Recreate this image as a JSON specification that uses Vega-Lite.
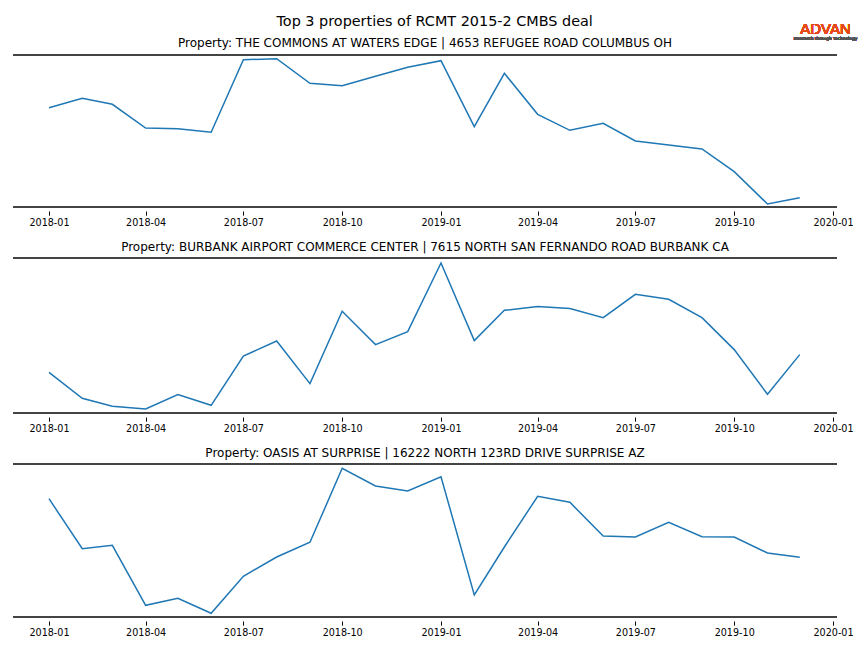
{
  "$schema": "https://vega.github.io/schema/vega-lite/v6.json",
  "padding": {"left": 12, "top": 13, "right": 5, "bottom": 5},
  "title": {"text": "Top 3 properties of RCMT 2015-2 CMBS deal", "fontSize": 14.4, "font": "DejaVu Sans", "fontWeight": "normal", "color": "#000000", "anchor": "middle", "offset": -7},
  "config": {
    "view": {"stroke": null},
    "font": "DejaVu Sans",
    "title": {"fontSize": 12, "fontWeight": "normal", "font": "DejaVu Sans", "color": "#000000", "offset": 3},
    "axis": {"labelFont": "DejaVu Sans", "labelFontSize": 9.6, "labelColor": "#000000", "tickColor": "#000000", "tickSize": 4.2, "tickWidth": 0.96, "domain": false, "grid": false, "title": null, "offset": 4, "labelPadding": 2.5}
  },
  "spacing": 13,
  "datasets": {
    "p1": [
      {"date": "2018-01-01T00:00:00", "v": 99.3}, {"date": "2018-02-01T00:00:00", "v": 108.7}, {"date": "2018-03-01T00:00:00", "v": 102.7},
      {"date": "2018-04-01T00:00:00", "v": 79.0}, {"date": "2018-05-01T00:00:00", "v": 78.3}, {"date": "2018-06-01T00:00:00", "v": 74.7},
      {"date": "2018-07-01T00:00:00", "v": 147.3}, {"date": "2018-08-01T00:00:00", "v": 148.3}, {"date": "2018-09-01T00:00:00", "v": 123.7},
      {"date": "2018-10-01T00:00:00", "v": 121.3}, {"date": "2018-11-01T00:00:00", "v": 130.7}, {"date": "2018-12-01T00:00:00", "v": 139.7},
      {"date": "2019-01-01T00:00:00", "v": 146.3}, {"date": "2019-02-01T00:00:00", "v": 80.3}, {"date": "2019-03-01T00:00:00", "v": 133.7},
      {"date": "2019-04-01T00:00:00", "v": 92.7}, {"date": "2019-05-01T00:00:00", "v": 76.7}, {"date": "2019-06-01T00:00:00", "v": 83.7},
      {"date": "2019-07-01T00:00:00", "v": 66.0}, {"date": "2019-08-01T00:00:00", "v": 62.0}, {"date": "2019-09-01T00:00:00", "v": 58.0},
      {"date": "2019-10-01T00:00:00", "v": 35.3}, {"date": "2019-11-01T00:00:00", "v": 3.0}, {"date": "2019-12-01T00:00:00", "v": 9.3}
    ],
    "p2": [
      {"date": "2018-01-01T00:00:00", "v": 40.7}, {"date": "2018-02-01T00:00:00", "v": 14.7}, {"date": "2018-03-01T00:00:00", "v": 6.7},
      {"date": "2018-04-01T00:00:00", "v": 4.0}, {"date": "2018-05-01T00:00:00", "v": 18.4}, {"date": "2018-06-01T00:00:00", "v": 7.7},
      {"date": "2018-07-01T00:00:00", "v": 57.0}, {"date": "2018-08-01T00:00:00", "v": 72.0}, {"date": "2018-09-01T00:00:00", "v": 29.4},
      {"date": "2018-10-01T00:00:00", "v": 101.7}, {"date": "2018-11-01T00:00:00", "v": 68.4}, {"date": "2018-12-01T00:00:00", "v": 81.4},
      {"date": "2019-01-01T00:00:00", "v": 150.0}, {"date": "2019-02-01T00:00:00", "v": 72.4}, {"date": "2019-03-01T00:00:00", "v": 102.7},
      {"date": "2019-04-01T00:00:00", "v": 106.4}, {"date": "2019-05-01T00:00:00", "v": 104.4}, {"date": "2019-06-01T00:00:00", "v": 95.4},
      {"date": "2019-07-01T00:00:00", "v": 118.7}, {"date": "2019-08-01T00:00:00", "v": 113.7}, {"date": "2019-09-01T00:00:00", "v": 95.4},
      {"date": "2019-10-01T00:00:00", "v": 63.4}, {"date": "2019-11-01T00:00:00", "v": 18.7}, {"date": "2019-12-01T00:00:00", "v": 58.4}
    ],
    "p3": [
      {"date": "2018-01-01T00:00:00", "v": 118.3}, {"date": "2018-02-01T00:00:00", "v": 68.3}, {"date": "2018-03-01T00:00:00", "v": 71.7},
      {"date": "2018-04-01T00:00:00", "v": 11.7}, {"date": "2018-05-01T00:00:00", "v": 18.7}, {"date": "2018-06-01T00:00:00", "v": 3.7},
      {"date": "2018-07-01T00:00:00", "v": 40.7}, {"date": "2018-08-01T00:00:00", "v": 60.0}, {"date": "2018-09-01T00:00:00", "v": 74.7},
      {"date": "2018-10-01T00:00:00", "v": 148.7}, {"date": "2018-11-01T00:00:00", "v": 131.0}, {"date": "2018-12-01T00:00:00", "v": 126.0},
      {"date": "2019-01-01T00:00:00", "v": 140.3}, {"date": "2019-02-01T00:00:00", "v": 22.0}, {"date": "2019-03-01T00:00:00", "v": 70.0},
      {"date": "2019-04-01T00:00:00", "v": 120.7}, {"date": "2019-05-01T00:00:00", "v": 114.7}, {"date": "2019-06-01T00:00:00", "v": 81.0},
      {"date": "2019-07-01T00:00:00", "v": 80.0}, {"date": "2019-08-01T00:00:00", "v": 94.7}, {"date": "2019-09-01T00:00:00", "v": 80.3},
      {"date": "2019-10-01T00:00:00", "v": 80.0}, {"date": "2019-11-01T00:00:00", "v": 64.0}, {"date": "2019-12-01T00:00:00", "v": 59.7}
    ]
  },
  "vconcat": [
    {
      "title": {"text": "Property: THE COMMONS AT WATERS EDGE | 4653 REFUGEE ROAD COLUMBUS OH", "offset": -28},
      "width": 824, "height": 152,
      "data": {"name": "p1"},
      "layer": [
        {"mark": {"type": "line", "color": "#1f77b4", "strokeWidth": 1.5},
         "encoding": {
           "x": {"field": "date", "type": "temporal", "scale": {"domain": [{"year": 2017, "month": 11, "date": 28, "hours": 12}, {"year": 2020, "month": 1, "date": 4, "hours": 17}]},
                 "axis": {"format": "%Y-%m", "values": [{"year": 2018, "month": 1, "date": 1}, {"year": 2018, "month": 4, "date": 1}, {"year": 2018, "month": 7, "date": 1}, {"year": 2018, "month": 10, "date": 1}, {"year": 2019, "month": 1, "date": 1}, {"year": 2019, "month": 4, "date": 1}, {"year": 2019, "month": 7, "date": 1}, {"year": 2019, "month": 10, "date": 1}, {"year": 2020, "month": 1, "date": 1}]}},
           "y": {"field": "v", "type": "quantitative", "scale": {"domain": [0, 152], "nice": false, "zero": false}, "axis": null}
         }},
        {"mark": {"type": "rule", "color": "#444444", "strokeWidth": 1.8}, "encoding": {"y": {"datum": 0}}},
        {"mark": {"type": "rule", "color": "#444444", "strokeWidth": 1.8}, "encoding": {"y": {"datum": 152}}},
        {"mark": {"type": "text", "text": "ADVAN", "font": "Liberation Sans", "fontSize": 15, "letterSpacing": 2.6, "color": "#E64A19", "align": "center", "baseline": "middle", "clip": false},
         "encoding": {"x": {"datum": {"year": 2019, "month": 12, "date": 25}}, "y": {"datum": 178}}},
        {"mark": {"type": "text", "text": "Research through Technology", "font": "DejaVu Sans", "fontSize": 4.3, "color": "#555555", "align": "center", "baseline": "middle", "clip": false},
         "encoding": {"x": {"datum": {"year": 2019, "month": 12, "date": 25}}, "y": {"datum": 168}}}
      ]
    },
    {
      "title": "Property: BURBANK AIRPORT COMMERCE CENTER | 7615 NORTH SAN FERNANDO ROAD BURBANK CA",
      "width": 824, "height": 155,
      "data": {"name": "p2"},
      "layer": [
        {"mark": {"type": "line", "color": "#1f77b4", "strokeWidth": 1.5},
         "encoding": {
           "x": {"field": "date", "type": "temporal", "scale": {"domain": [{"year": 2017, "month": 11, "date": 28, "hours": 12}, {"year": 2020, "month": 1, "date": 4, "hours": 17}]},
                 "axis": {"format": "%Y-%m", "values": [{"year": 2018, "month": 1, "date": 1}, {"year": 2018, "month": 4, "date": 1}, {"year": 2018, "month": 7, "date": 1}, {"year": 2018, "month": 10, "date": 1}, {"year": 2019, "month": 1, "date": 1}, {"year": 2019, "month": 4, "date": 1}, {"year": 2019, "month": 7, "date": 1}, {"year": 2019, "month": 10, "date": 1}, {"year": 2020, "month": 1, "date": 1}]}},
           "y": {"field": "v", "type": "quantitative", "scale": {"domain": [0, 155], "nice": false, "zero": false}, "axis": null}
         }},
        {"mark": {"type": "rule", "color": "#444444", "strokeWidth": 1.8}, "encoding": {"y": {"datum": 0}}},
        {"mark": {"type": "rule", "color": "#444444", "strokeWidth": 1.8}, "encoding": {"y": {"datum": 155}}}
      ]
    },
    {
      "title": "Property: OASIS AT SURPRISE | 16222 NORTH 123RD DRIVE SURPRISE AZ",
      "width": 824, "height": 153,
      "data": {"name": "p3"},
      "layer": [
        {"mark": {"type": "line", "color": "#1f77b4", "strokeWidth": 1.5},
         "encoding": {
           "x": {"field": "date", "type": "temporal", "scale": {"domain": [{"year": 2017, "month": 11, "date": 28, "hours": 12}, {"year": 2020, "month": 1, "date": 4, "hours": 17}]},
                 "axis": {"format": "%Y-%m", "values": [{"year": 2018, "month": 1, "date": 1}, {"year": 2018, "month": 4, "date": 1}, {"year": 2018, "month": 7, "date": 1}, {"year": 2018, "month": 10, "date": 1}, {"year": 2019, "month": 1, "date": 1}, {"year": 2019, "month": 4, "date": 1}, {"year": 2019, "month": 7, "date": 1}, {"year": 2019, "month": 10, "date": 1}, {"year": 2020, "month": 1, "date": 1}]}},
           "y": {"field": "v", "type": "quantitative", "scale": {"domain": [0, 153], "nice": false, "zero": false}, "axis": null}
         }},
        {"mark": {"type": "rule", "color": "#444444", "strokeWidth": 1.8}, "encoding": {"y": {"datum": 0}}},
        {"mark": {"type": "rule", "color": "#444444", "strokeWidth": 1.8}, "encoding": {"y": {"datum": 153}}}
      ]
    }
  ]
}
